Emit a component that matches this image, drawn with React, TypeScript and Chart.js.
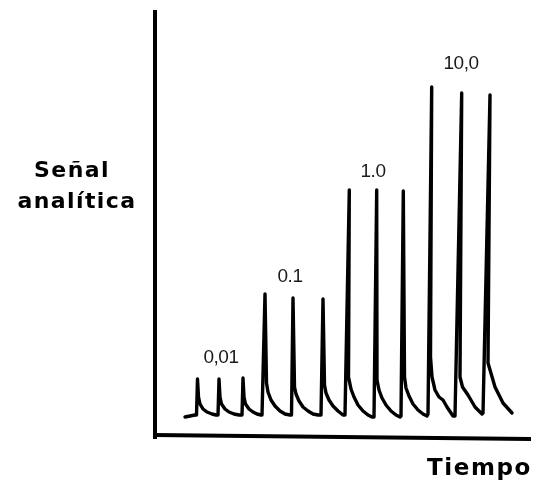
import React, { useEffect, useRef } from "react";
import { Chart, registerables } from "chart.js";

Chart.register(...registerables);

// Detector trace: time (arbitrary units) and analytical signal (arbitrary units)
const traceTime: number[] = [
  30, 40,
  41.5, 42.5, 43.5, 45, 48, 52, 57, 61,
  63, 64, 65, 66.5, 70, 74, 79, 84,
  87, 88, 89, 90.5, 94, 98, 102, 106,
  107, 110, 111.5, 113, 116, 120, 125, 130, 135,
  136.5, 138, 139.5, 141, 144, 148, 153, 158, 163,
  166, 168, 169.5, 171, 174, 178, 183, 188,
  190, 194.3, 193.5, 196, 199, 203, 208, 213, 217,
  219, 221.7, 222, 224, 227, 231, 236, 241, 245,
  246, 248.3, 249.5, 251, 254, 258, 263, 268, 272,
  273, 276.7, 275.5, 277, 280, 284, 288, 292, 298,
  300, 306.7, 305, 307.5, 313, 320, 327,
  328, 335, 333, 340, 348, 357,
];
const traceSignal: number[] = [
  20, 22,
  22, 58, 40, 33, 28, 25, 23, 22,
  22, 58, 40, 33, 28, 25, 23, 22,
  22, 59, 40, 33, 28, 25, 23, 22,
  22, 143, 54, 45, 37, 31, 26, 23, 22,
  22, 139, 50, 43, 36, 30, 26, 23, 22,
  22, 138, 52, 44, 37, 31, 26, 22,
  22, 247, 60, 48, 40, 32, 26, 22, 20,
  20, 247, 57, 47, 39, 32, 26, 22, 20,
  21, 246, 60, 49, 41, 33, 27, 23, 21,
  23, 350, 80, 60, 47, 40, 37, 30, 21,
  21, 344, 60, 50, 42, 30, 23,
  24, 342, 74, 50, 34, 24,
];

// Concentration labels above each group of injections
const groupLabels: string[] = ["0,01", "0.1", "1.0", "10,0"];
const groupLabelTime: number[] = [66, 135, 218, 306];
const groupLabelSignal: number[] = [74, 155, 260, 368];

const yTitleLines: string[] = ["Señal", "analítica"];
const xTitle = "Tiempo";

const decoPlugin = {
  id: "deco",
  beforeDatasetsDraw(chart: any) {
    const { ctx, chartArea } = chart;
    const { left, right, top, bottom } = chartArea;
    ctx.save();
    ctx.strokeStyle = "#000";
    ctx.lineWidth = 4;
    ctx.lineCap = "butt";
    ctx.beginPath();
    ctx.moveTo(left, top);
    ctx.lineTo(left, bottom + 2);
    ctx.stroke();
    ctx.beginPath();
    ctx.moveTo(left - 2, bottom - 2);
    ctx.lineTo(right + 1, bottom + 2);
    ctx.stroke();
    ctx.restore();
  },
  afterDatasetsDraw(chart: any) {
    const { ctx, scales } = chart;
    const xs = scales.x;
    const ys = scales.y;
    ctx.save();
    ctx.fillStyle = "#1a1a1a";
    ctx.font = '19px "Liberation Sans", Arial, sans-serif';
    (ctx as any).letterSpacing = "-0.5px";
    ctx.textAlign = "center";
    ctx.textBaseline = "alphabetic";
    groupLabels.forEach((t, i) => {
      ctx.fillText(
        t,
        xs.getPixelForValue(groupLabelTime[i]),
        ys.getPixelForValue(groupLabelSignal[i])
      );
    });
    ctx.fillStyle = "#000";
    ctx.font = 'bold 22px "DejaVu Sans", sans-serif';
    (ctx as any).letterSpacing = "1.4px";
    ctx.textAlign = "center";
    ctx.fillText(yTitleLines[0], 72, 177);
    ctx.fillText(yTitleLines[1], 77, 208);
    ctx.font = 'bold 23px "DejaVu Sans", sans-serif';
    (ctx as any).letterSpacing = "1.6px";
    ctx.textAlign = "left";
    ctx.fillText(xTitle, 427, 475);
    ctx.restore();
  },
};

export default function App() {
  const canvasRef = useRef<HTMLCanvasElement | null>(null);

  useEffect(() => {
    if (!canvasRef.current) return;
    const points = traceTime.map((t, i) => ({ x: t, y: traceSignal[i] }));
    const chart = new Chart(canvasRef.current, {
      type: "line",
      data: {
        datasets: [
          {
            data: points,
            borderColor: "#000",
            borderWidth: 3.4,
            pointRadius: 0,
            tension: 0,
            fill: false,
            borderJoinStyle: "round",
            borderCapStyle: "round",
          } as any,
        ],
      },
      options: {
        animation: false,
        responsive: true,
        maintainAspectRatio: false,
        parsing: false as any,
        layout: { padding: { left: 155, right: 6, top: 10, bottom: 49 } },
        plugins: {
          legend: { display: false },
          tooltip: { enabled: false },
          title: { display: false },
        },
        scales: {
          x: { type: "linear", min: 0, max: 375, display: false },
          y: { type: "linear", min: 0, max: 427, display: false },
        },
      },
      plugins: [decoPlugin],
    });
    return () => chart.destroy();
  }, []);

  return (
    <div
      style={{
        position: "fixed",
        left: 0,
        top: 0,
        width: 536,
        height: 486,
        background: "#fff",
      }}
    >
      <canvas ref={canvasRef} />
    </div>
  );
}
